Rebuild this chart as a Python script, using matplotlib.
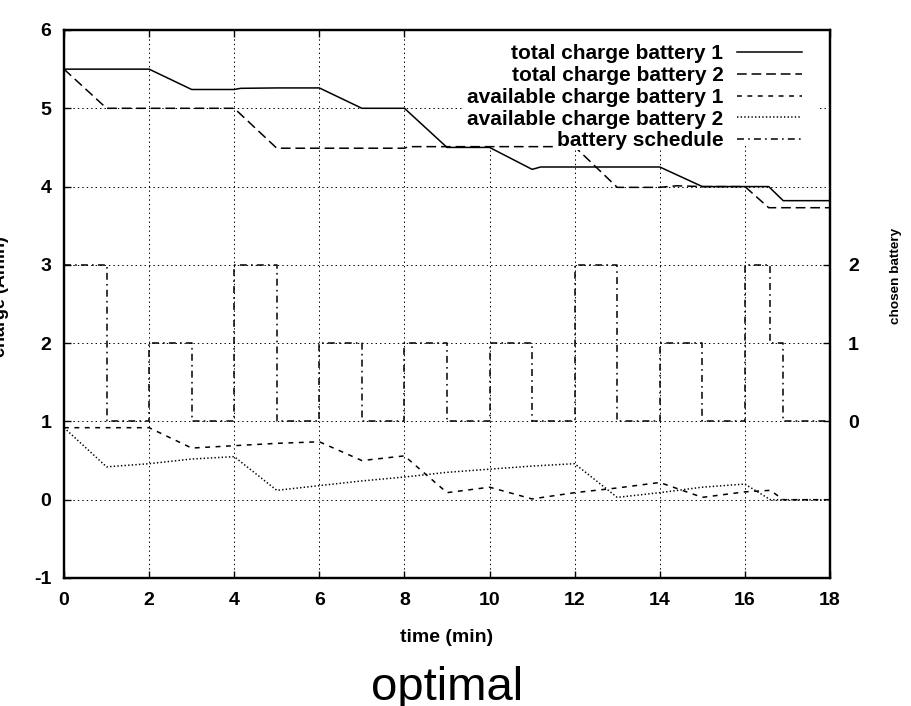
import matplotlib
matplotlib.use("Agg")
import matplotlib.pyplot as plt
from matplotlib.patches import Rectangle

plt.rcParams['font.family'] = ['Liberation Sans', 'DejaVu Sans']
plt.rcParams['lines.scale_dashes'] = False
plt.rcParams['axes.unicode_minus'] = False

# ---- data ----
t_total1 = [0, 1, 2, 3, 4, 4.15, 5, 6, 7, 8, 9, 10, 11, 11.2, 12, 13, 14, 15, 16, 16.56, 16.9, 18]
total1 = [5.5, 5.5, 5.5, 5.24, 5.24, 5.255, 5.26, 5.26, 5.0, 5.0, 4.5, 4.5, 4.22, 4.25, 4.25, 4.25, 4.25, 4.0, 4.0, 4.0, 3.82, 3.82]

t_total2 = [0, 1, 2, 3, 4, 5, 6, 7, 8, 8.1, 9, 10, 11, 12, 13, 14, 14.4, 15, 16, 16.56, 18]
total2 = [5.5, 5.0, 5.0, 5.0, 5.0, 4.49, 4.49, 4.49, 4.49, 4.51, 4.51, 4.51, 4.51, 4.51, 3.99, 3.99, 4.01, 4.0, 4.0, 3.73, 3.73]

t_avail1 = [0, 1, 2, 3, 4, 5, 6, 7, 8, 9, 10, 11, 12, 13, 14, 15, 16, 16.6, 16.9, 18]
avail1 = [0.92, 0.92, 0.92, 0.66, 0.69, 0.72, 0.74, 0.50, 0.56, 0.09, 0.16, 0.01, 0.09, 0.15, 0.22, 0.03, 0.10, 0.12, 0.0, 0.0]

t_avail2 = [0, 1, 2, 3, 4, 5, 6, 7, 8, 9, 10, 11, 12, 13, 14, 15, 16, 16.6, 18]
avail2 = [0.92, 0.42, 0.46, 0.52, 0.55, 0.12, 0.18, 0.24, 0.29, 0.35, 0.39, 0.43, 0.46, 0.03, 0.09, 0.16, 0.20, 0.0, 0.0]

t_sched = [0, 1, 2, 3, 4, 5, 6, 7, 8, 9, 10, 11, 12, 13, 14, 15, 16, 16.6, 16.9, 18]
sched = [2, 0, 1, 0, 2, 0, 1, 0, 1, 0, 1, 0, 2, 0, 1, 0, 2, 1, 0, 0]

labels = ["total charge battery 1", "total charge battery 2",
          "available charge battery 1", "available charge battery 2",
          "battery schedule"]

x_ticks = list(range(0, 19, 2))
y_ticks = list(range(-1, 7))
y2_ticks = [0, 1, 2]

W, H = 912, 706
fig = plt.figure(figsize=(W / 100, H / 100), dpi=100)
L, R, T, B = 64, 830, 30, 578
ax = fig.add_axes([L / W, 1 - B / H, (R - L) / W, (B - T) / H])
ax2 = ax.twinx()

lw = 1.1
h1, = ax.plot(t_total1, total1, color='black', lw=lw, ls='-')
h2, = ax.plot(t_total2, total2, color='black', lw=lw, ls=(0, (7, 3.5)))
h3, = ax.plot(t_avail1, avail1, color='black', lw=lw, ls=(0, (3.5, 4)))
h4, = ax.plot(t_avail2, avail2, color='black', lw=lw, ls=(0, (1.0, 1.6)))
h5, = ax2.step(t_sched, sched, where='post', color='black', lw=lw,
               ls=(0, (5, 3, 1.2, 3)))

ax.set_xlim(0, 18)
ax.set_ylim(-1, 6)
ax2.set_ylim(-2, 5)
ax.set_xticks(x_ticks)
ax.set_yticks(y_ticks)
ax2.set_yticks(y2_ticks)

ax.grid(True, color='black', lw=0.7, ls=(0, (1, 2.2)))
ax.set_axisbelow(True)

# white key area hiding the grid (as in the reference)
ax.add_patch(Rectangle(((462 - L) / (R - L), (B - 146) / (B - T)),
                       (818 - 462) / (R - L), 1 - (B - 146) / (B - T),
                       transform=ax.transAxes, facecolor='white',
                       edgecolor='none', zorder=1))

for a in (ax, ax2):
    for s in a.spines.values():
        s.set_linewidth(1.6)

ax.tick_params(axis='both', direction='in', length=5, width=1.0,
               labelsize=14, top=True, right=False)
ax.tick_params(axis='x', pad=10)
ax.tick_params(axis='y', pad=9)
ax2.tick_params(axis='y', direction='in', length=5, width=1.0,
                labelsize=14, pad=13)
for lab in ax.get_xticklabels() + ax.get_yticklabels() + ax2.get_yticklabels():
    lab.set_fontweight('bold')

# axis labels
fig.text(447 / W, 1 - 637 / H, "time (min)", ha='center', va='center',
         fontsize=14, fontweight='bold')
fig.text(1 / W, 1 - 297 / H, "charge (Amin)", ha='center', va='center',
         rotation=90, fontsize=13, fontweight='bold')
fig.text(896 / W, 1 - 276 / H, "chosen battery", ha='center', va='center',
         rotation=90, fontsize=9.7, fontweight='bold')
fig.text(447 / W, 1 - 700 / H, "optimal", ha='center', va='baseline',
         fontsize=34)

leg = ax2.legend([h1, h2, h3, h4, h5], labels, loc='upper right',
                 bbox_to_anchor=((813 - L) / (R - L), 1.0 - 3 / (B - T)),
                 markerfirst=False, frameon=False,
                 prop={'weight': 'bold', 'size': 15},
                 handlelength=3.1, handletextpad=0.65, labelspacing=0.13,
                 borderpad=0.55, borderaxespad=0)
leg.set_zorder(10)
for txt in leg.get_texts():
    txt.set_bbox(dict(facecolor='white', edgecolor='none', pad=0))

fig.savefig("out.png", dpi=100)
